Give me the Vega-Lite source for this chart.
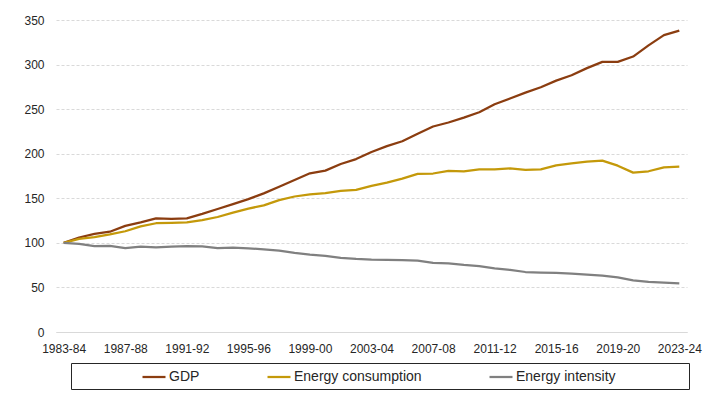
{
  "$schema": "https://vega.github.io/schema/vega-lite/v6.json",
  "autosize": {"type": "pad"},
  "padding": {"left": 23, "top": 14, "right": 15, "bottom": 10},
  "background": "white",
  "config": {"font": "Liberation Sans", "view": {"stroke": null}},
  "bounds": "flush",
  "spacing": 31,
  "vconcat": [
    {
      "width": 631,
      "height": 312,
      "data": {"values": [
        {"year": "1983-84", "series": "GDP", "value": 100},
        {"year": "1984-85", "series": "GDP", "value": 106},
        {"year": "1985-86", "series": "GDP", "value": 110},
        {"year": "1986-87", "series": "GDP", "value": 112.5},
        {"year": "1987-88", "series": "GDP", "value": 119},
        {"year": "1988-89", "series": "GDP", "value": 123},
        {"year": "1989-90", "series": "GDP", "value": 127.5},
        {"year": "1990-91", "series": "GDP", "value": 127},
        {"year": "1991-92", "series": "GDP", "value": 127.5},
        {"year": "1992-93", "series": "GDP", "value": 132.5},
        {"year": "1993-94", "series": "GDP", "value": 138},
        {"year": "1994-95", "series": "GDP", "value": 143.5},
        {"year": "1995-96", "series": "GDP", "value": 149},
        {"year": "1996-97", "series": "GDP", "value": 155.5},
        {"year": "1997-98", "series": "GDP", "value": 163},
        {"year": "1998-99", "series": "GDP", "value": 170.5},
        {"year": "1999-00", "series": "GDP", "value": 178},
        {"year": "2000-01", "series": "GDP", "value": 181},
        {"year": "2001-02", "series": "GDP", "value": 188.5},
        {"year": "2002-03", "series": "GDP", "value": 194},
        {"year": "2003-04", "series": "GDP", "value": 202},
        {"year": "2004-05", "series": "GDP", "value": 208.5},
        {"year": "2005-06", "series": "GDP", "value": 214},
        {"year": "2006-07", "series": "GDP", "value": 222.5},
        {"year": "2007-08", "series": "GDP", "value": 230.5},
        {"year": "2008-09", "series": "GDP", "value": 235},
        {"year": "2009-10", "series": "GDP", "value": 240.5},
        {"year": "2010-11", "series": "GDP", "value": 246.5},
        {"year": "2011-12", "series": "GDP", "value": 255.5},
        {"year": "2012-13", "series": "GDP", "value": 262},
        {"year": "2013-14", "series": "GDP", "value": 268.5},
        {"year": "2014-15", "series": "GDP", "value": 274.5},
        {"year": "2015-16", "series": "GDP", "value": 282},
        {"year": "2016-17", "series": "GDP", "value": 288},
        {"year": "2017-18", "series": "GDP", "value": 296},
        {"year": "2018-19", "series": "GDP", "value": 303},
        {"year": "2019-20", "series": "GDP", "value": 303},
        {"year": "2020-21", "series": "GDP", "value": 309},
        {"year": "2021-22", "series": "GDP", "value": 321.5},
        {"year": "2022-23", "series": "GDP", "value": 333},
        {"year": "2023-24", "series": "GDP", "value": 338},
        {"year": "1983-84", "series": "Energy consumption", "value": 100},
        {"year": "1984-85", "series": "Energy consumption", "value": 104.5},
        {"year": "1985-86", "series": "Energy consumption", "value": 106.5},
        {"year": "1986-87", "series": "Energy consumption", "value": 109.5},
        {"year": "1987-88", "series": "Energy consumption", "value": 113},
        {"year": "1988-89", "series": "Energy consumption", "value": 118.5},
        {"year": "1989-90", "series": "Energy consumption", "value": 122},
        {"year": "1990-91", "series": "Energy consumption", "value": 122.5},
        {"year": "1991-92", "series": "Energy consumption", "value": 123},
        {"year": "1992-93", "series": "Energy consumption", "value": 125.5},
        {"year": "1993-94", "series": "Energy consumption", "value": 129},
        {"year": "1994-95", "series": "Energy consumption", "value": 134},
        {"year": "1995-96", "series": "Energy consumption", "value": 138.5},
        {"year": "1996-97", "series": "Energy consumption", "value": 142},
        {"year": "1997-98", "series": "Energy consumption", "value": 148},
        {"year": "1998-99", "series": "Energy consumption", "value": 152},
        {"year": "1999-00", "series": "Energy consumption", "value": 154.5},
        {"year": "2000-01", "series": "Energy consumption", "value": 155.8},
        {"year": "2001-02", "series": "Energy consumption", "value": 158.2},
        {"year": "2002-03", "series": "Energy consumption", "value": 159.5},
        {"year": "2003-04", "series": "Energy consumption", "value": 164},
        {"year": "2004-05", "series": "Energy consumption", "value": 167.5},
        {"year": "2005-06", "series": "Energy consumption", "value": 172},
        {"year": "2006-07", "series": "Energy consumption", "value": 177.3},
        {"year": "2007-08", "series": "Energy consumption", "value": 177.8},
        {"year": "2008-09", "series": "Energy consumption", "value": 180.8},
        {"year": "2009-10", "series": "Energy consumption", "value": 180.3},
        {"year": "2010-11", "series": "Energy consumption", "value": 182.5},
        {"year": "2011-12", "series": "Energy consumption", "value": 182.5},
        {"year": "2012-13", "series": "Energy consumption", "value": 183.5},
        {"year": "2013-14", "series": "Energy consumption", "value": 181.8},
        {"year": "2014-15", "series": "Energy consumption", "value": 182.5},
        {"year": "2015-16", "series": "Energy consumption", "value": 187},
        {"year": "2016-17", "series": "Energy consumption", "value": 189.2},
        {"year": "2017-18", "series": "Energy consumption", "value": 191},
        {"year": "2018-19", "series": "Energy consumption", "value": 192.2},
        {"year": "2019-20", "series": "Energy consumption", "value": 186.6},
        {"year": "2020-21", "series": "Energy consumption", "value": 178.8},
        {"year": "2021-22", "series": "Energy consumption", "value": 180.3},
        {"year": "2022-23", "series": "Energy consumption", "value": 184.7},
        {"year": "2023-24", "series": "Energy consumption", "value": 185.5},
        {"year": "1983-84", "series": "Energy intensity", "value": 100},
        {"year": "1984-85", "series": "Energy intensity", "value": 98.8},
        {"year": "1985-86", "series": "Energy intensity", "value": 96.3},
        {"year": "1986-87", "series": "Energy intensity", "value": 96.6},
        {"year": "1987-88", "series": "Energy intensity", "value": 94},
        {"year": "1988-89", "series": "Energy intensity", "value": 95.8},
        {"year": "1989-90", "series": "Energy intensity", "value": 95},
        {"year": "1990-91", "series": "Energy intensity", "value": 95.8},
        {"year": "1991-92", "series": "Energy intensity", "value": 96.3},
        {"year": "1992-93", "series": "Energy intensity", "value": 96},
        {"year": "1993-94", "series": "Energy intensity", "value": 94.2},
        {"year": "1994-95", "series": "Energy intensity", "value": 94.6},
        {"year": "1995-96", "series": "Energy intensity", "value": 93.9},
        {"year": "1996-97", "series": "Energy intensity", "value": 92.6},
        {"year": "1997-98", "series": "Energy intensity", "value": 91.4},
        {"year": "1998-99", "series": "Energy intensity", "value": 88.7},
        {"year": "1999-00", "series": "Energy intensity", "value": 86.8},
        {"year": "2000-01", "series": "Energy intensity", "value": 85.5},
        {"year": "2001-02", "series": "Energy intensity", "value": 83.2},
        {"year": "2002-03", "series": "Energy intensity", "value": 82},
        {"year": "2003-04", "series": "Energy intensity", "value": 81.2},
        {"year": "2004-05", "series": "Energy intensity", "value": 80.8},
        {"year": "2005-06", "series": "Energy intensity", "value": 80.7},
        {"year": "2006-07", "series": "Energy intensity", "value": 80},
        {"year": "2007-08", "series": "Energy intensity", "value": 77.5},
        {"year": "2008-09", "series": "Energy intensity", "value": 77},
        {"year": "2009-10", "series": "Energy intensity", "value": 75.3},
        {"year": "2010-11", "series": "Energy intensity", "value": 74},
        {"year": "2011-12", "series": "Energy intensity", "value": 71.3},
        {"year": "2012-13", "series": "Energy intensity", "value": 69.6},
        {"year": "2013-14", "series": "Energy intensity", "value": 67.3},
        {"year": "2014-15", "series": "Energy intensity", "value": 66.6},
        {"year": "2015-16", "series": "Energy intensity", "value": 66.2},
        {"year": "2016-17", "series": "Energy intensity", "value": 65.4},
        {"year": "2017-18", "series": "Energy intensity", "value": 64.3},
        {"year": "2018-19", "series": "Energy intensity", "value": 63.2},
        {"year": "2019-20", "series": "Energy intensity", "value": 61.3},
        {"year": "2020-21", "series": "Energy intensity", "value": 58},
        {"year": "2021-22", "series": "Energy intensity", "value": 56.1},
        {"year": "2022-23", "series": "Energy intensity", "value": 55.4},
        {"year": "2023-24", "series": "Energy intensity", "value": 54.6}
      ]},
      "mark": {"type": "line", "strokeWidth": 2.25, "strokeJoin": "round"},
      "encoding": {
        "x": {
          "field": "year", "type": "ordinal", "sort": null,
          "scale": {"type": "point", "padding": 0.5},
          "axis": {
            "title": null, "labelAngle": 0, "ticks": false, "grid": false,
            "domainColor": "#D9D9D9", "domainWidth": 1,
            "labelFontSize": 12, "labelColor": "#262626", "labelPadding": 11,
            "values": ["1983-84", "1987-88", "1991-92", "1995-96", "1999-00", "2003-04", "2007-08", "2011-12", "2015-16", "2019-20", "2023-24"]
          }
        },
        "y": {
          "field": "value", "type": "quantitative",
          "scale": {"domain": [0, 350], "nice": false},
          "axis": {
            "title": null, "ticks": false, "domain": false,
            "values": [0, 50, 100, 150, 200, 250, 300, 350],
            "gridColor": "#D9D9D9", "gridDash": [3, 2], "gridWidth": 1,
            "labelFontSize": 12, "labelColor": "#262626", "labelPadding": 12
          }
        },
        "color": {
          "field": "series", "type": "nominal",
          "scale": {"domain": ["GDP", "Energy consumption", "Energy intensity"], "range": ["#8B3D10", "#C4990A", "#808080"]},
          "legend": {
            "title": null, "orient": "none", "legendX": 85, "legendY": 344,
            "direction": "horizontal", "symbolType": "stroke", "symbolSize": 529,
            "symbolStrokeWidth": 2.25, "labelFont": "Liberation Sans",
            "labelFontSize": 14, "labelColor": "#262626", "labelOffset": 2,
            "columnPadding": 63, "padding": 0
          }
        }
      }
    },
    {
      "bounds": "flush",
      "spacing": 14,
      "hconcat": [
        {
          "width": 1, "height": 26,
          "data": {"values": []},
          "mark": {"type": "text"},
          "view": {"stroke": null, "fill": null}
        },
        {
          "width": 618, "height": 26,
          "data": {"values": []},
          "mark": {"type": "text"},
          "view": {"stroke": "#262626", "strokeWidth": 1, "fill": null}
        }
      ]
    }
  ]
}
